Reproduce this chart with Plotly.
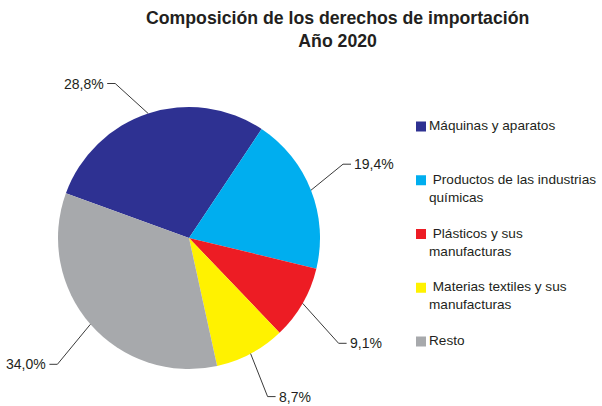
import math
import plotly.graph_objects as go

# ---- data ----
categories = ["Máquinas y aparatos", "Productos de las industrias químicas",
              "Plásticos y sus manufacturas", "Materias textiles y sus manufacturas", "Resto"]
legend_labels = ["Máquinas y aparatos", "\u00a0Productos de las industrias<br>químicas",
                 "\u00a0Plásticos y sus<br>manufacturas", "\u00a0Materias textiles y sus<br>manufacturas",
                 "Resto"]
values = [28.8, 19.4, 9.1, 8.7, 34.0]
title_lines = ["Composición de los derechos de importación", "Año 2020"]

# ---- styles / layout ----
colors = ["#2E3192", "#00AEEF", "#ED1C24", "#FFF200", "#A7A9AC"]
W, H = 602, 406
CX, CY, R = 189, 238, 131
ROT = -70  # start angle of first slice, clockwise from 12 o'clock
# leader-line elbow offsets (px) from slice edge midpoint, and horizontal tail length
elbow_off = [(-33, -30), (32, -26), (36, 40), (17, 43), (-33, 40)]
tail = 8
txt_color = "#231F20"
FONT = "Liberation Sans, Arial, sans-serif"

fig = go.Figure()
fig.add_trace(go.Pie(
    labels=categories, values=values, sort=False, direction="clockwise",
    rotation=ROT, marker=dict(colors=colors, line=dict(width=0)),
    textinfo="none", hoverinfo="label+percent", showlegend=False,
    domain=dict(x=[(CX - R) / W, (CX + R) / W], y=[(H - CY - R) / H, (H - CY + R) / H]),
))

shapes = []
annotations = []
total = sum(values)
cum = 0.0
for i, v in enumerate(values):
    mid = ROT + (cum + v / 2) / total * 360
    cum += v
    a = math.radians(mid)
    ex, ey = CX + R * math.sin(a), CY - R * math.cos(a)
    bx, by = ex + elbow_off[i][0], ey + elbow_off[i][1]
    side = 1 if elbow_off[i][0] > 0 else -1
    tx = bx + side * tail
    shapes.append(dict(type="path", xref="x", yref="y",
                       path=f"M {ex:.1f} {ey:.1f} L {bx:.1f} {by:.1f} L {tx:.1f} {by:.1f}",
                       line=dict(color="#3a3a3a", width=1)))
    annotations.append(dict(xref="x", yref="y", x=tx + side * 1, y=by,
                            xanchor="left" if side > 0 else "right", yanchor="middle",
                            text=f"{v:.1f}".replace(".", ",") + "%", showarrow=False,
                            font=dict(size=14, color=txt_color, family=FONT)))

# manual legend
LX, LY0, LSTEP, SQ = 416, 126, 53.75, 10
for i, lab in enumerate(legend_labels):
    y = LY0 + i * LSTEP
    shapes.append(dict(type="rect", xref="x", yref="y", x0=LX, x1=LX + SQ,
                       y0=y - SQ / 2 + 0.5, y1=y + SQ / 2 + 0.5,
                       fillcolor=colors[i], line=dict(width=0)))
    annotations.append(dict(xref="x", yref="y", x=LX + SQ + 1, y=y - 10,
                            xanchor="left", yanchor="top", align="left",
                            text=lab, showarrow=False,
                            font=dict(size=13.6, color=txt_color, family=FONT)))

# title
annotations.append(dict(xref="x", yref="y", x=337, y=6, xanchor="center", yanchor="top",
                        text="<b>" + "<br>".join(title_lines) + "</b>", showarrow=False,
                        font=dict(size=17.7, color=txt_color, family=FONT)))

fig.update_layout(
    width=W, height=H, margin=dict(l=0, r=0, t=0, b=0),
    paper_bgcolor="white", plot_bgcolor="rgba(0,0,0,0)",
    xaxis=dict(range=[0, W], visible=False, fixedrange=True),
    yaxis=dict(range=[H, 0], visible=False, fixedrange=True),
    shapes=shapes, annotations=annotations, showlegend=False,
)
fig.write_html("out.html", config={"displayModeBar": False},
               post_script="document.body.style.margin='0';document.body.style.overflow='hidden';")
